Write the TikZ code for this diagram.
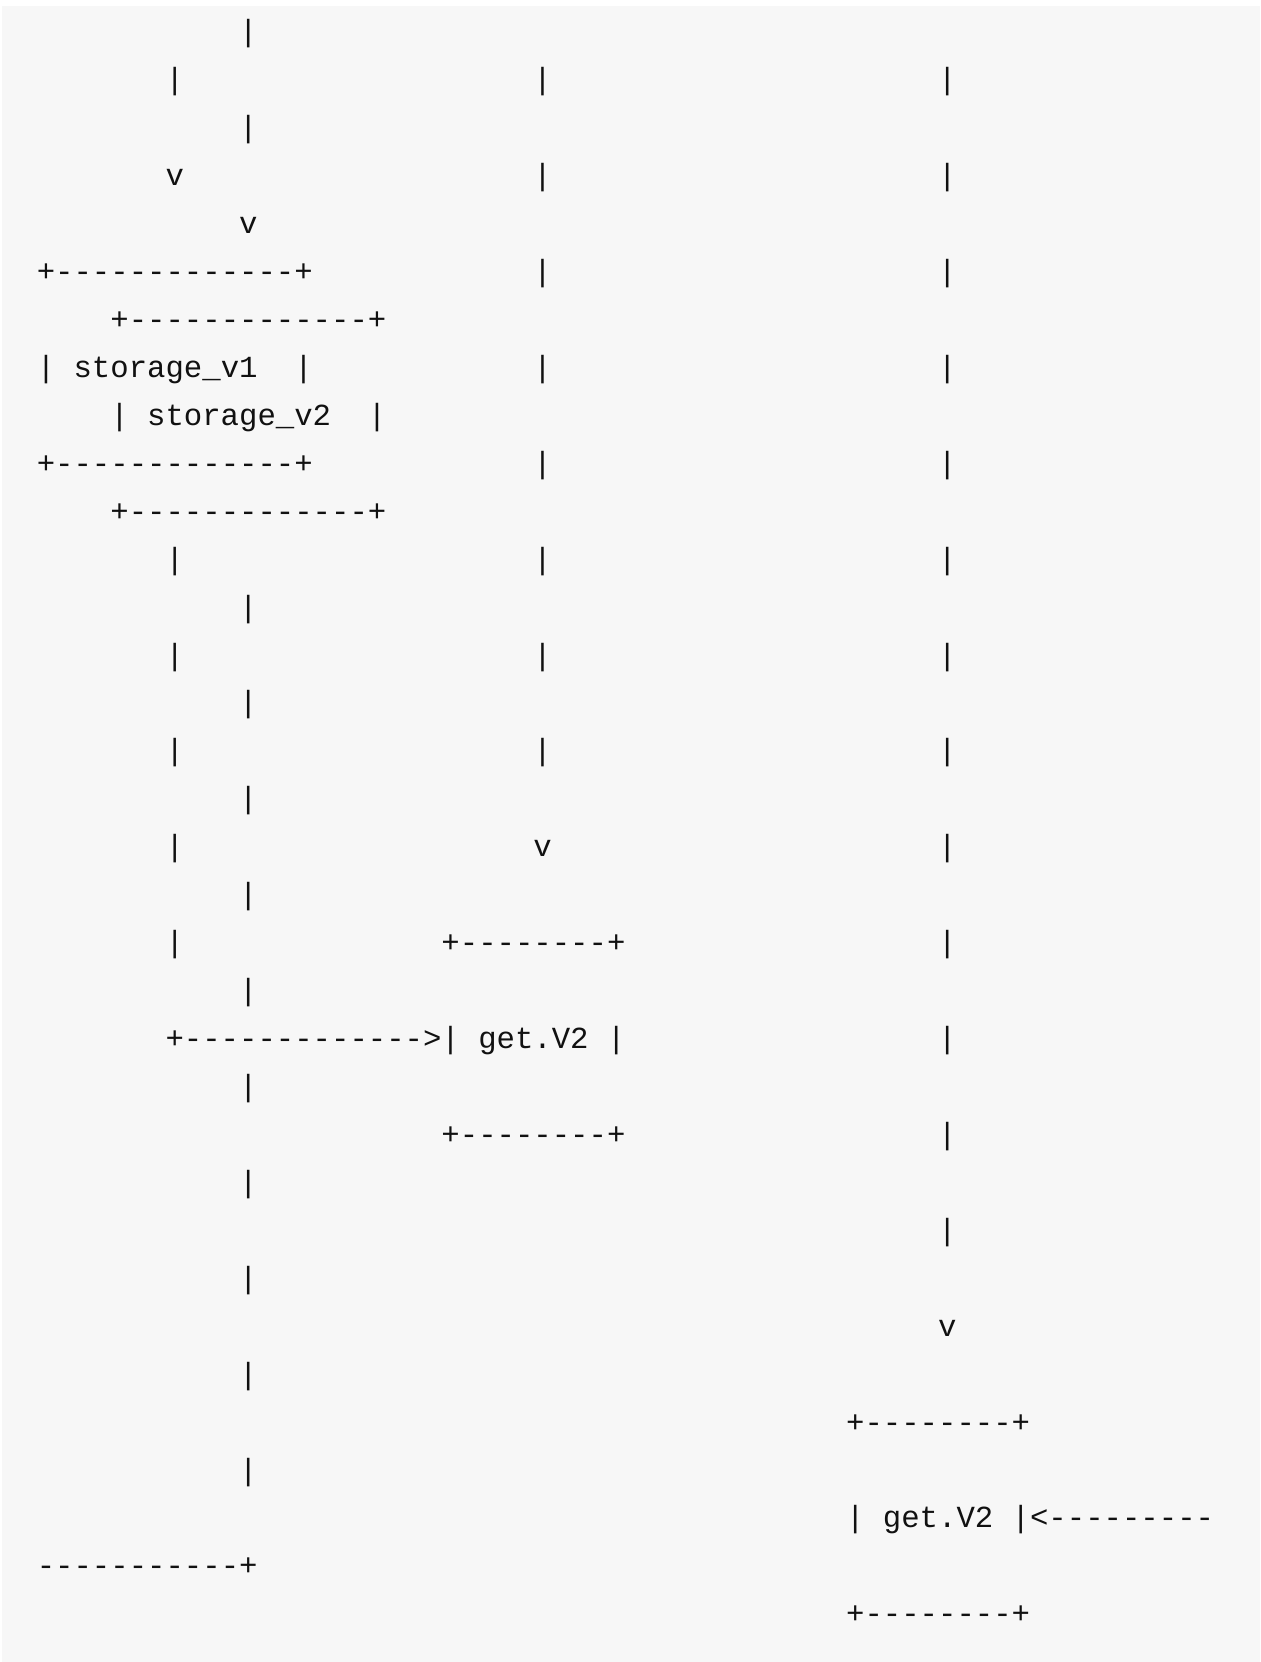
\documentclass[tikz,border=0pt]{standalone}
\usepackage{fontspec}
\setmonofont{Liberation Mono}
\definecolor{codebg}{HTML}{F7F7F7}
\definecolor{codefg}{HTML}{111111}
\tikzset{
  ascii/.style={font=\ttfamily\fontsize{15.33pt}{24pt}\selectfont, text=codefg,
    anchor=base west, inner sep=0pt, outer sep=0pt},
}
\begin{document}
\begin{tikzpicture}
  \useasboundingbox (0pt,0pt) rectangle (630pt,-831pt);
  \fill[codebg] (1.2pt,-3pt) rectangle (630pt,-831pt);
  \begin{scope}[shift={(18.4pt,-20.9pt)}, x=9.197pt, y=-23.97pt]
  % vertical runs
  \foreach \r in {1,11,13,15,17,19}
    \node[ascii] (lA\r) at (7,\r) {|};
  \foreach \r in {0,2,12,14,...,30}
    \node[ascii] (lB\r) at (11,\r) {|};
  \foreach \r in {1,3,...,15}
    \node[ascii] (lC\r) at (27,\r) {|};
  \foreach \r in {1,3,...,25}
    \node[ascii] (lD\r) at (49,\r) {|};
  \node[ascii] (v1arrow) at (7,3) {v};
  \node[ascii] (v2arrow) at (11,4) {v};
  \node[ascii] (getAarrow) at (27,17) {v};
  \node[ascii] (getBarrow) at (49,27) {v};
  % storage boxes
  \node[ascii] (v1top) at (0,5) {+-------------+};
  \node[ascii] (v2top) at (4,6) {+-------------+};
  \node[ascii] (v1l) at (0,7) {|};
  \node[ascii] (v1name) at (2,7) {storage\_v1};
  \node[ascii] (v1r) at (14,7) {|};
  \node[ascii] (v2l) at (4,8) {|};
  \node[ascii] (v2name) at (6,8) {storage\_v2};
  \node[ascii] (v2r) at (18,8) {|};
  \node[ascii] (v1bot) at (0,9) {+-------------+};
  \node[ascii] (v2bot) at (4,10) {+-------------+};
  % first get box
  \node[ascii] (getAtop) at (22,19) {+--------+};
  \node[ascii] (toget) at (7,21) {+------------->};
  \node[ascii] (getAl) at (22,21) {|};
  \node[ascii] (getAname) at (24,21) {get.V2};
  \node[ascii] (getAr) at (31,21) {|};
  \node[ascii] (getAbot) at (22,23) {+--------+};
  % second get box
  \node[ascii] (getBtop) at (44,29) {+--------+};
  \node[ascii] (getBl) at (44,31) {|};
  \node[ascii] (getBname) at (46,31) {get.V2};
  \node[ascii] (getBr) at (53,31) {|};
  \node[ascii] (fromv2) at (54,31) {<---------};
  \node[ascii] (v2turn) at (0,32) {-----------+};
  \node[ascii] (getBbot) at (44,33) {+--------+};
  \end{scope}
\end{tikzpicture}
\end{document}
